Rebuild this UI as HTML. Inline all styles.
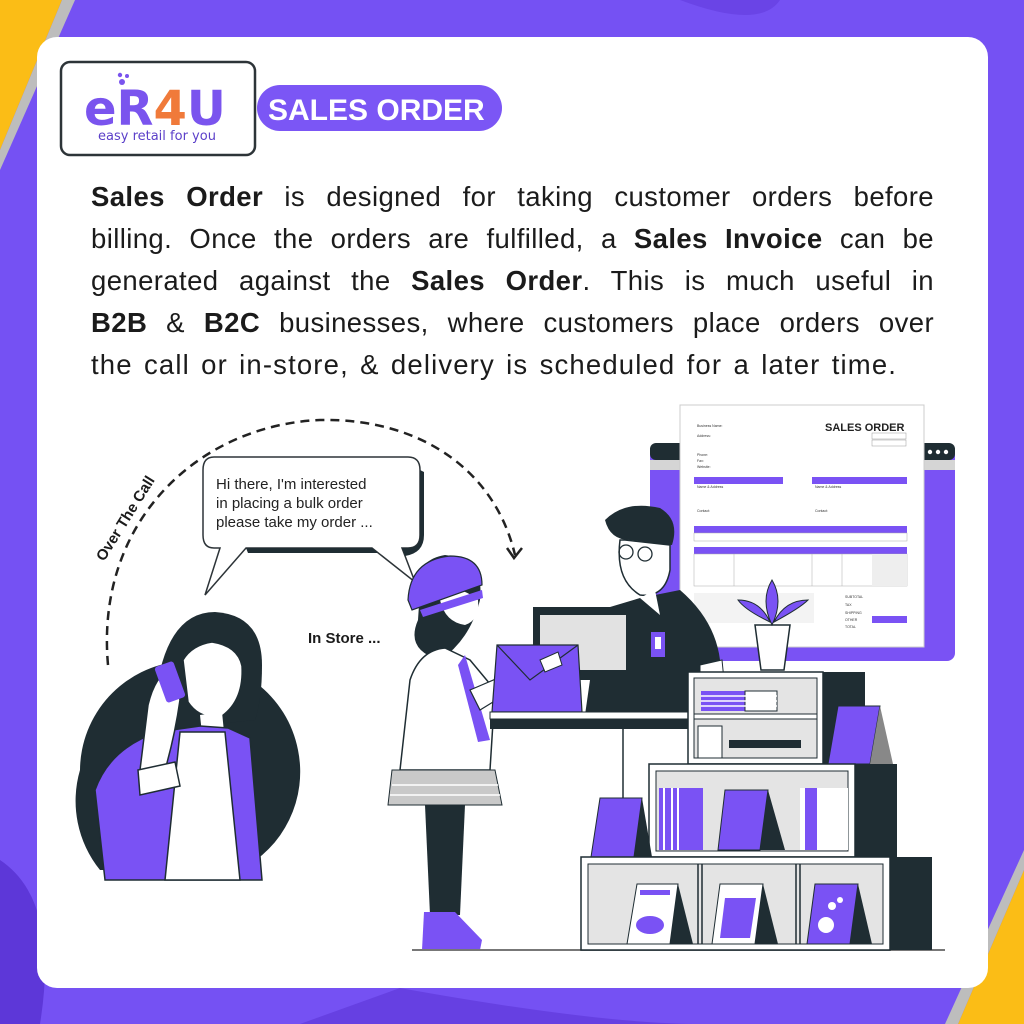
<!DOCTYPE html>
<html><head><meta charset="utf-8"><style>
html,body{margin:0;padding:0}
body{width:1024px;height:1024px;position:relative;overflow:hidden;background:#7451f2;font-family:"Liberation Sans",sans-serif}
.p{position:absolute;left:91px;top:176px;width:843px;font-size:27.5px;line-height:42px;color:#1b1b1b;letter-spacing:0.4px}
.p div{text-align:justify;text-align-last:justify;white-space:nowrap;height:42px}
.p div.l{text-align-last:left;letter-spacing:1.15px;word-spacing:2.5px}
.p b{font-weight:bold}
</style></head><body>
<svg width="1024" height="1024" style="position:absolute;left:0;top:0">
<rect width="1024" height="1024" fill="#7551f3"/>
<path d="M680 0 Q760 30 780 0Z" fill="#6a44e6"/>
<path d="M0 860 Q60 900 40 1024 L0 1024Z" fill="#5d37d8"/>
<path d="M400 988 Q600 1024 700 1024 L300 1024Z" fill="#6640e2"/>
<polygon points="0,0 62,0 0,150" fill="#fbbd16"/>
<polygon points="62,0 75,0 0,170 0,150" fill="#bdbdbd"/>
<polygon points="1024,870 1024,1024 958,1024" fill="#fbbd16"/>
<polygon points="1024,850 1024,870 958,1024 945,1024" fill="#bdbdbd"/>
<rect x="37" y="37" width="951" height="951" rx="20" fill="#fff"/>
<!-- logo -->
<rect x="257" y="85" width="245" height="46" rx="23" fill="#7b56f5"/>
<text x="268" y="120" font-size="30" font-weight="bold" fill="#fff" font-family="Liberation Sans">SALES ORDER</text>
<rect x="61" y="62" width="194" height="93" rx="9" fill="#fff" stroke="#2d3438" stroke-width="2.5"/>
<text x="84" y="125" font-size="48" font-weight="bold" fill="#7a54ee" font-family="DejaVu Sans">eR<tspan fill="#f07a3a">4</tspan>U</text>
<circle cx="120" cy="75" r="2.2" fill="#7a54ee"/><circle cx="127" cy="76" r="2" fill="#7a54ee"/><circle cx="122" cy="82" r="3" fill="#7a54ee"/>
<text x="98" y="140" font-size="13" fill="#5b3fc9" font-family="DejaVu Sans">easy retail for you</text>
<!-- dashed arc -->
<path d="M108 665 C95 520 200 425 320 420 C420 418 495 470 515 555" fill="none" stroke="#222" stroke-width="2.5" stroke-dasharray="9 6"/>
<path d="M507 548 L514 558 L522 548" fill="none" stroke="#222" stroke-width="2.5"/>
<text x="0" y="0" font-size="15" font-weight="bold" fill="#1b1b1b" transform="translate(104,562) rotate(-58)">Over The Call</text>
<!-- speech bubble -->
<path d="M214 457 H408 Q420 457 420 470 V535 Q420 548 408 548 H402 L415 582 L372 548 H246 L205 595 L220 548 H214 Q203 548 203 535 V470 Q203 457 214 457Z" fill="#fff" stroke="#2d3438" stroke-width="1.5"/>
<path d="M420 470 V535 Q420 548 408 548 H402 L405 556 Q424 553 424 535 V472Z" fill="#1f2d33"/>
<path d="M246 548 H372 L378 553 H248Z" fill="#1f2d33"/>
<text x="216" y="489" font-size="15" fill="#222">Hi there, I'm interested</text>
<text x="216" y="508" font-size="15" fill="#222">in placing a bulk order</text>
<text x="216" y="527" font-size="15" fill="#222">please take my order ...</text>
<text x="308" y="643" font-size="15" font-weight="bold" fill="#1b1b1b">In Store ...</text>
<!-- left woman -->
<path d="M80 770 A110 110 0 0 1 298 750 A110 110 0 0 1 240 870 L100 870 A110 110 0 0 1 80 770Z" fill="#1f2d33"/>
<path d="M155 700 Q165 612 215 612 Q262 615 262 665 Q262 700 255 720 L160 730Z" fill="#1f2d33"/>
<path d="M183 660 Q192 645 212 642 Q238 646 242 666 Q244 700 222 716 Q200 720 188 702Z" fill="#fff" stroke="#1f2d33" stroke-width="1.5"/>
<path d="M200 715 L222 712 L224 732 L202 734Z" fill="#fff"/>
<path d="M158 732 L200 726 L228 728 L250 738 L262 880 L105 880 L95 790 Q110 748 158 732Z" fill="#7a52f4" stroke="#1f2d33" stroke-width="1.5"/>
<path d="M180 732 L225 732 L240 880 L165 880 Z" fill="#fff" stroke="#1f2d33" stroke-width="1.5"/>
<path d="M148 705 Q155 675 172 668 L180 700 Q175 735 165 770 L140 770Z" fill="#fff" stroke="#1f2d33" stroke-width="1.5"/>
<rect x="160" y="663" width="20" height="38" rx="3" fill="#7a52f4" transform="rotate(-20 170 682)"/>
<path d="M138 770 L175 762 L180 786 L140 795Z" fill="#fff" stroke="#1f2d33" stroke-width="1.5"/>
<!-- girl -->
<path d="M420 590 Q415 560 445 555 Q485 560 480 600 Q470 640 440 660 Q405 650 418 620Z" fill="#1f2d33"/>
<path d="M440 590 Q460 585 478 600 Q480 620 465 625 Q445 622 440 600Z" fill="#fff"/>
<path d="M408 600 Q410 560 450 556 Q482 556 482 585 L412 610Z" fill="#7a52f4" stroke="#1f2d33" stroke-width="1.2"/>
<path d="M420 610 L482 590 L483 598 L423 617Z" fill="#7a52f4"/>
<path d="M400 770 L410 680 Q420 650 445 648 L470 660 L495 690 L490 770Z" fill="#fff" stroke="#1f2d33" stroke-width="1.5"/>
<path d="M465 655 L490 740 L478 742 L458 665Z" fill="#7a52f4"/>
<path d="M470 690 L540 660 L545 670 L480 710Z" fill="#fff" stroke="#1f2d33" stroke-width="1.2"/>
<path d="M392 770 L495 770 L502 805 L388 805Z" fill="#c9c9c9" stroke="#1f2d33" stroke-width="1"/>
<path d="M392 785 H498 M390 795 H500" stroke="#fff" stroke-width="1.5"/>
<path d="M425 805 H465 L460 915 H430Z" fill="#1f2d33"/>
<path d="M424 912 H455 L482 940 L480 950 H422Z" fill="#7a52f4"/>
<line x1="412" y1="950" x2="945" y2="950" stroke="#777" stroke-width="2"/>
<!-- browser window & invoice -->
<rect x="650" y="443" width="305" height="218" rx="8" fill="#7a52f4"/>
<rect x="650" y="443" width="305" height="17" rx="6" fill="#1f2d33"/>
<rect x="650" y="460" width="305" height="10" fill="#d5d5d5"/>
<circle cx="930" cy="452" r="2.2" fill="#fff"/><circle cx="938" cy="452" r="2.2" fill="#fff"/><circle cx="946" cy="452" r="2.2" fill="#fff"/>
<rect x="680" y="405" width="244" height="242" fill="#fff" stroke="#ccc"/>
<text x="825" y="431" font-size="11" font-weight="bold" fill="#222">SALES ORDER</text>
<g font-size="3.5" fill="#333">
<text x="697" y="427">Business Name:</text><text x="697" y="437">Address:</text><text x="697" y="456">Phone:</text><text x="697" y="462">Fax:</text><text x="697" y="468">Website:</text>
<text x="697" y="488">Name &amp; Address</text><text x="815" y="488">Name &amp; Address</text><text x="697" y="512">Contact:</text><text x="815" y="512">Contact:</text>
<text x="845" y="598">SUBTOTAL</text><text x="845" y="606">TAX</text><text x="845" y="614">SHIPPING</text><text x="845" y="621">OTHER</text><text x="845" y="628">TOTAL</text>
</g>
<rect x="872" y="433" width="34" height="6" fill="none" stroke="#999" stroke-width="0.5"/><rect x="872" y="440" width="34" height="6" fill="none" stroke="#999" stroke-width="0.5"/>
<rect x="694" y="477" width="89" height="7" fill="#7a52f4"/><rect x="812" y="477" width="95" height="7" fill="#7a52f4"/>
<rect x="694" y="526" width="213" height="7" fill="#7a52f4"/><rect x="694" y="533" width="213" height="8" fill="none" stroke="#aaa" stroke-width="0.5"/>
<rect x="694" y="547" width="213" height="7" fill="#7a52f4"/><rect x="694" y="554" width="213" height="32" fill="none" stroke="#aaa" stroke-width="0.5"/>
<rect x="872" y="554" width="35" height="32" fill="#eee"/>
<path d="M734 554 V586 M812 554 V586 M842 554 V586" stroke="#aaa" stroke-width="0.5"/>
<rect x="694" y="593" width="120" height="30" fill="#f3f3f3"/>
<rect x="872" y="616" width="35" height="7" fill="#7a52f4"/>
<!-- man -->
<path d="M605 520 Q625 500 660 508 Q680 520 672 545 L630 540 Q610 540 605 520Z" fill="#1f2d33"/>
<path d="M620 540 Q615 580 640 595 Q665 598 670 570 L670 545 L625 540Z" fill="#fff" stroke="#1f2d33" stroke-width="1.5"/>
<circle cx="626" cy="552" r="7" fill="none" stroke="#1f2d33" stroke-width="1.3"/><circle cx="645" cy="554" r="7" fill="none" stroke="#1f2d33" stroke-width="1.3"/>
<path d="M640 598 L600 610 L585 715 L700 715 L720 660 Q715 620 680 590Z" fill="#1f2d33"/>
<path d="M640 598 L655 590 L660 615Z" fill="#fff"/>
<rect x="651" y="632" width="14" height="25" fill="#7a52f4"/><rect x="655" y="637" width="6" height="12" fill="#fff"/>
<path d="M700 665 L722 660 L725 690 L700 700Z" fill="#fff" stroke="#1f2d33"/>
<!-- computer & envelope -->
<rect x="533" y="607" width="100" height="73" fill="#1f2d33"/>
<rect x="540" y="615" width="86" height="55" fill="#e2e2e2"/>
<path d="M497 645 H578 L582 712 H492Z" fill="#7a52f4" stroke="#1f2d33" stroke-width="1.2"/>
<path d="M497 645 L530 680 L578 645" fill="none" stroke="#1f2d33" stroke-width="1.2"/>
<path d="M540 660 L558 652 L562 665 L545 672Z" fill="#fff" stroke="#1f2d33"/>
<rect x="490" y="712" width="200" height="17" fill="#1f2d33"/>
<rect x="490" y="712" width="200" height="7" fill="#fff" stroke="#1f2d33"/>
<line x1="623" y1="729" x2="623" y2="800" stroke="#1f2d33" stroke-width="1.5"/>
<!-- plant -->
<path d="M755 625 H790 L784 670 H761Z" fill="#fff" stroke="#1f2d33" stroke-width="1.5"/>
<path d="M772 625 Q760 600 772 580 Q784 600 772 625Z M770 622 Q745 610 738 600 Q760 600 770 622Z M774 622 Q800 608 808 600 Q785 600 774 622Z" fill="#7a52f4" stroke="#1f2d33"/>
<!-- shelves -->
<rect x="823" y="672" width="42" height="92" fill="#1f2d33"/>
<rect x="688" y="672" width="135" height="92" fill="#fff" stroke="#1f2d33" stroke-width="1.5"/>
<rect x="694" y="678" width="123" height="80" fill="#e4e4e4" stroke="#1f2d33"/>
<rect x="701" y="691" width="44" height="20" fill="#7a52f4"/><rect x="745" y="691" width="32" height="20" fill="#fff" stroke="#1f2d33"/>
<path d="M701 696 H777 M701 701 H777 M701 706 H777" stroke="#fff" stroke-width="1.5"/>
<rect x="694" y="714" width="123" height="5" fill="#fff" stroke="#1f2d33"/>
<rect x="698" y="726" width="24" height="32" fill="#fff" stroke="#1f2d33"/>
<rect x="729" y="740" width="72" height="8" fill="#1f2d33"/>
<path d="M838 706 H880 L870 764 H828Z" fill="#7a52f4" stroke="#1f2d33"/><path d="M880 706 L893 764 H870Z" fill="#888"/>
<rect x="855" y="764" width="42" height="93" fill="#1f2d33"/>
<rect x="649" y="764" width="206" height="93" fill="#fff" stroke="#1f2d33" stroke-width="1.5"/>
<rect x="656" y="771" width="192" height="80" fill="#e4e4e4" stroke="#1f2d33"/>
<rect x="659" y="788" width="44" height="62" fill="#7a52f4"/><path d="M664 788 V850 M672 788 V850 M678 788 V850" stroke="#fff" stroke-width="2"/>
<rect x="800" y="788" width="48" height="62" fill="#fff"/><rect x="805" y="788" width="12" height="62" fill="#7a52f4"/>
<path d="M725 790 H768 L760 850 H718Z" fill="#7a52f4" stroke="#1f2d33"/><path d="M768 790 L785 850 H760Z" fill="#1f2d33"/>
<path d="M600 798 H642 L634 857 H591Z" fill="#7a52f4" stroke="#1f2d33"/><path d="M642 798 L652 857 H634Z" fill="#1f2d33"/>
<rect x="890" y="857" width="42" height="93" fill="#1f2d33"/>
<rect x="581" y="857" width="309" height="93" fill="#fff" stroke="#1f2d33" stroke-width="1.5"/>
<rect x="588" y="864" width="295" height="80" fill="#e4e4e4" stroke="#1f2d33"/>
<path d="M698 864 V944 M702 864 V944 M796 864 V944 M800 864 V944" stroke="#1f2d33" stroke-width="1.5"/>
<path d="M637 884 H678 L670 944 H627Z" fill="#fff" stroke="#1f2d33"/><path d="M678 884 L693 944 H670Z" fill="#1f2d33"/>
<ellipse cx="650" cy="925" rx="14" ry="9" fill="#7a52f4"/><rect x="640" y="890" width="30" height="5" fill="#7a52f4"/>
<path d="M720 884 H763 L755 944 H712Z" fill="#fff" stroke="#1f2d33"/><path d="M763 884 L778 944 H755Z" fill="#1f2d33"/>
<path d="M725 898 H756 L750 938 H720Z" fill="#7a52f4"/>
<path d="M815 884 H858 L850 944 H807Z" fill="#7a52f4" stroke="#1f2d33"/><path d="M858 884 L872 944 H850Z" fill="#1f2d33"/>
<circle cx="826" cy="925" r="8" fill="#fff"/><circle cx="832" cy="906" r="4" fill="#fff"/><circle cx="840" cy="900" r="3" fill="#fff"/>
</svg>
<div class="p">
<div><b>Sales Order</b> is designed for taking customer orders before</div>
<div>billing. Once the orders are fulfilled, a <b>Sales Invoice</b> can be</div>
<div>generated against the <b>Sales Order</b>. This is much useful in</div>
<div><b>B2B</b> &amp; <b>B2C</b> businesses, where customers place orders over</div>
<div class="l">the call or in-store, &amp; delivery is scheduled for a later time.</div>
</div>
</body></html>
